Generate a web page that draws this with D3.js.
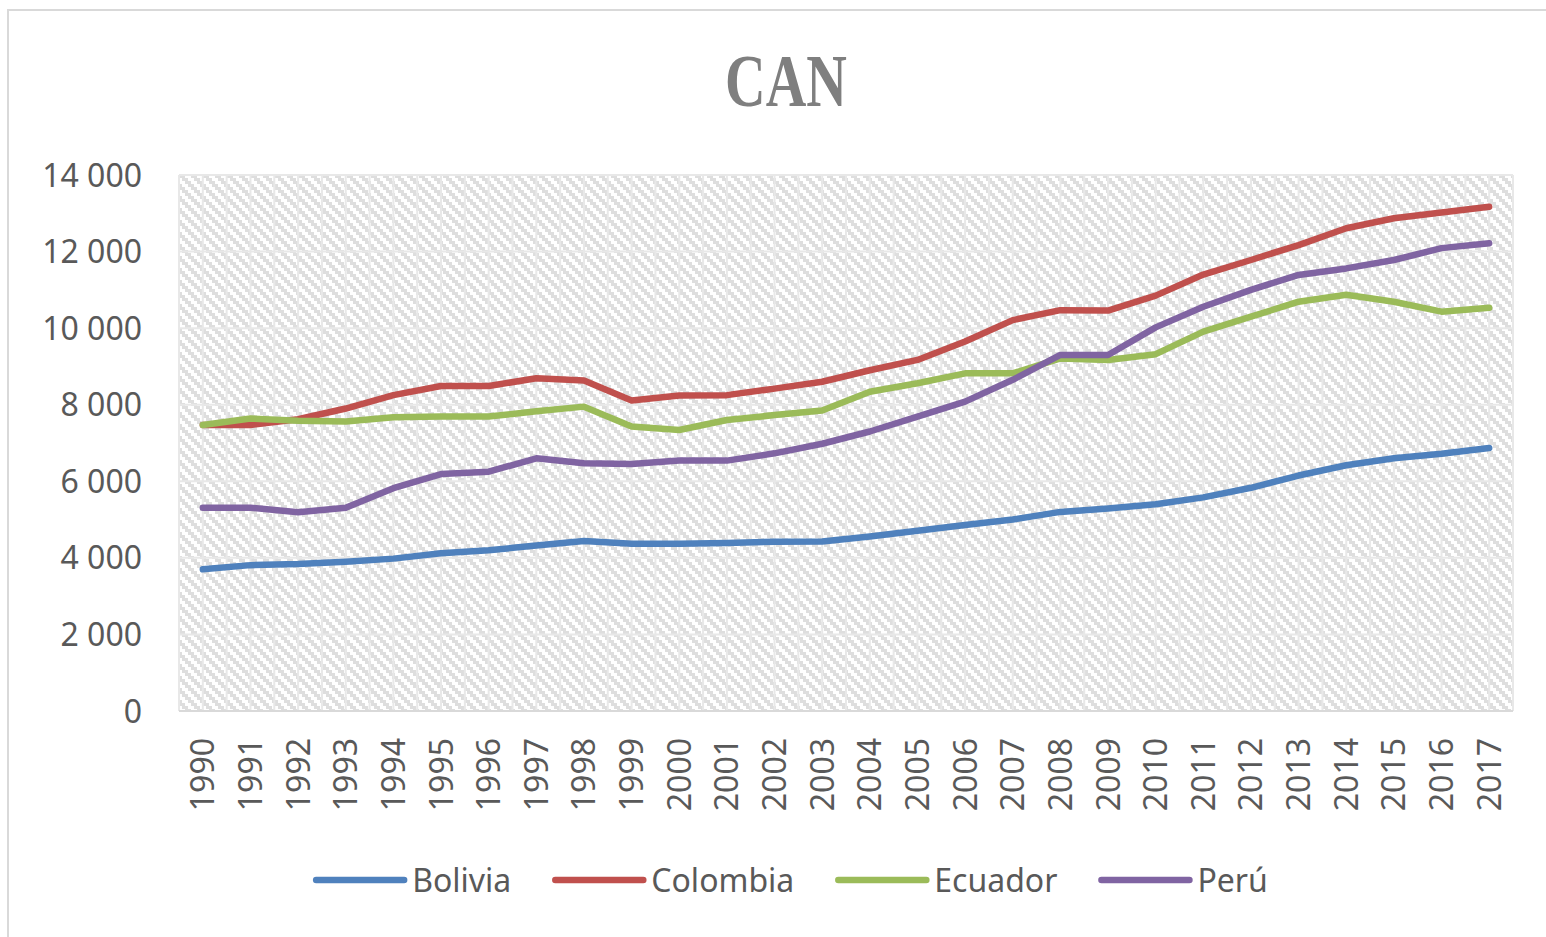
<!DOCTYPE html>
<html><head><meta charset="utf-8">
<script src="https://cdn.jsdelivr.net/npm/d3@7"></script>
<style>body{margin:0;background:#fff;} svg{display:block}</style>
</head><body>
<svg id="c" width="1546" height="937"></svg>
<script>
const years = ["1990","1991","1992","1993","1994","1995","1996","1997","1998","1999","2000","2001","2002","2003","2004","2005","2006","2007","2008","2009","2010","2011","2012","2013","2014","2015","2016","2017"];
const bolivia  = [3700,3810,3840,3900,3980,4120,4200,4320,4440,4370,4370,4390,4420,4430,4560,4710,4860,5000,5200,5290,5400,5580,5830,6150,6420,6600,6720,6870];
const colombia = [7470,7470,7620,7900,8250,8490,8490,8690,8630,8110,8240,8250,8420,8600,8900,9170,9650,10210,10470,10460,10850,11400,11780,12170,12610,12870,13020,13170];
const ecuador  = [7470,7640,7580,7560,7670,7690,7690,7830,7950,7430,7340,7600,7730,7850,8340,8560,8820,8820,9210,9170,9320,9910,10300,10690,10870,10690,10430,10530];
const peru     = [5310,5310,5190,5310,5820,6190,6250,6600,6470,6450,6540,6540,6730,6980,7300,7690,8080,8650,9300,9300,10020,10560,11000,11390,11560,11780,12090,12220];
const seriesNames = ["Bolivia","Colombia","Ecuador","Perú"];
const seriesValues = [bolivia, colombia, ecuador, peru];
const seriesColors = ["#4f81bd","#c0504d","#9bbb59","#8064a2"];
const yTicks = [0,2000,4000,6000,8000,10000,12000,14000];
const title = "CAN";

const svg = d3.select("#c");
const W = 1546, H = 937;
const P = {left:179, right:1513, top:175, bottom:711};
const FONT = "'Noto Sans', 'Open Sans', sans-serif";
const TXT = "#595959";

// outer frame
svg.append("rect").attr("x",8).attr("y",10).attr("width",W+20).attr("height",H+20)
  .attr("fill","#fff").attr("stroke","#d9d9d9").attr("stroke-width",2);

const x = d3.scaleBand().domain(years).range([P.left,P.right]).padding(0);
const y = d3.scaleLinear().domain([0,14000]).range([P.bottom,P.top]);
const bw = x.bandwidth();

// hatch pattern (wide downward diagonal)
const defs = svg.append("defs");
const cell = 3, per = 4;
const pat = defs.append("pattern").attr("id","hatch").attr("patternUnits","userSpaceOnUse")
  .attr("x",P.left).attr("y",P.top).attr("width",cell*per).attr("height",cell*per);
pat.append("rect").attr("width",cell*per).attr("height",cell*per).attr("fill","#fff");
for (let cy=0; cy<per; cy++) for (let cx=0; cx<per; cx++) {
  const d = ((cx-cy)%per+per)%per;
  if (d===0 || d===1) {
    pat.append("rect").attr("x",cx*cell).attr("y",cy*cell).attr("width",cell).attr("height",cell).attr("fill","#dedede");
  }
}
svg.append("rect").attr("x",P.left).attr("y",P.top).attr("width",P.right-P.left).attr("height",P.bottom-P.top)
  .attr("fill","url(#hatch)");

// gridlines
const g = svg.append("g");
const vx = [];
years.forEach(yr => { vx.push(x(yr)); vx.push(x(yr)+bw/2); });
vx.push(P.right);
g.selectAll("line.v").data(vx).join("line").attr("class","v")
  .attr("x1",d=>d).attr("x2",d=>d).attr("y1",P.top).attr("y2",P.bottom)
  .attr("stroke","#e8e8e8").attr("stroke-width",2);
g.selectAll("line.h").data(yTicks).join("line").attr("class","h")
  .attr("x1",P.left).attr("x2",P.right).attr("y1",d=>y(d)).attr("y2",d=>y(d))
  .attr("stroke","#e8e8e8").attr("stroke-width",2);
svg.append("line").attr("x1",P.left).attr("x2",P.right).attr("y1",P.bottom).attr("y2",P.bottom)
  .attr("stroke","#d9d9d9").attr("stroke-width",2);

// y labels
svg.append("g").selectAll("text").data(yTicks).join("text")
  .attr("x",142).attr("y",d=>y(d)).attr("dy","0.36em").attr("text-anchor","end")
  .attr("font-family",FONT).attr("font-size",32).attr("fill",TXT)
  .text(d=>d3.format(",")(d).replace(/,/g," "));

// x labels
svg.append("g").selectAll("text").data(years).join("text")
  .attr("transform",d=>`translate(${x(d)+bw/2},738) rotate(-90)`)
  .attr("dy","0.36em").attr("text-anchor","end")
  .attr("font-family",FONT).attr("font-size",32).attr("fill",TXT)
  .text(d=>d);

// lines
const line = d3.line().x((d,i)=>x(years[i])+bw/2).y(d=>y(d));
seriesValues.forEach((vals,k)=>{
  svg.append("path").datum(vals).attr("d",line).attr("fill","none")
    .attr("stroke",seriesColors[k]).attr("stroke-width",6.5)
    .attr("stroke-linecap","round").attr("stroke-linejoin","round");
});

// title
svg.append("text").attr("transform","translate(786,106) scale(0.76,1)")
  .attr("text-anchor","middle").attr("font-family","'Liberation Serif', 'DejaVu Serif', serif")
  .attr("font-weight","bold").attr("font-size",74).attr("fill","#7f7f7f").text(title);

// legend
const lg = svg.append("g");
const symLen = 88, symGap = 8, itemGap = 44, legY = 880;
const items = seriesNames.map((n,k)=>{
  const gi = lg.append("g");
  gi.append("line").attr("x1",0).attr("x2",symLen).attr("y1",0).attr("y2",0)
    .attr("stroke",seriesColors[k]).attr("stroke-width",6.5).attr("stroke-linecap","round");
  const t = gi.append("text").attr("x",symLen+symGap).attr("dy","0.36em")
    .attr("font-family",FONT).attr("font-size",32).attr("fill",TXT).text(n);
  return {gi, w: symLen+symGap+t.node().getComputedTextLength()};
});
const total = d3.sum(items,d=>d.w) + itemGap*(items.length-1);
let cx = 792 - total/2;
items.forEach(it=>{ it.gi.attr("transform",`translate(${cx},${legY})`); cx += it.w + itemGap; });
</script>
</body></html>
